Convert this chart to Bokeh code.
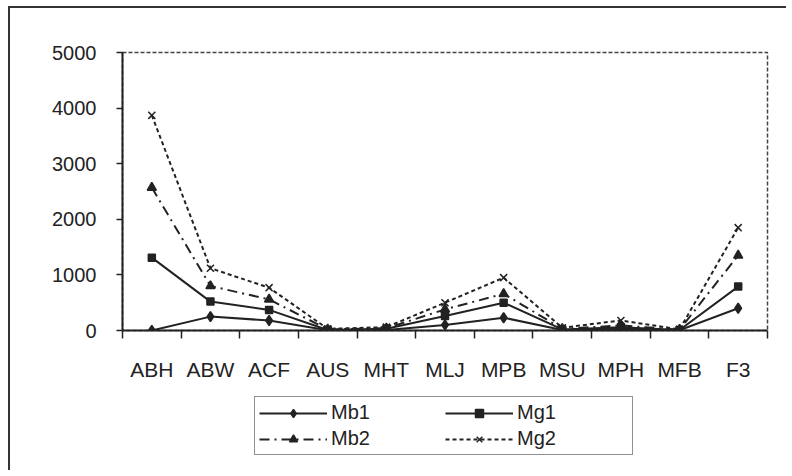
from bokeh.plotting import figure
from bokeh.models import Range1d, FixedTicker, Legend, LegendItem
from bokeh.layouts import column
from bokeh.embed import file_html
from bokeh.resources import INLINE

categories = ["ABH", "ABW", "ACF", "AUS", "MHT", "MLJ", "MPB", "MSU", "MPH", "MFB", "F3"]
Mb1 = [0, 250, 180, 5, 10, 100, 230, 10, 30, 5, 400]
Mg1 = [1310, 520, 370, 10, 30, 260, 500, 20, 60, 10, 790]
Mb2 = [2570, 800, 560, 20, 40, 380, 660, 30, 90, 15, 1350]
Mg2 = [3870, 1120, 770, 30, 60, 500, 950, 50, 180, 20, 1850]
y_ticks = [0, 1000, 2000, 3000, 4000, 5000]

xs = [i + 0.5 for i in range(len(categories))]
INK = "#222222"
FONT = "Liberation Sans"

p = figure(frame_width=645, frame_height=278, output_backend="svg", toolbar_location=None,
           x_range=Range1d(0, len(categories)), y_range=Range1d(0, 5000),
           min_border_left=112, min_border_top=44, min_border_right=17, min_border_bottom=60)

p.xgrid.visible = False
p.ygrid.visible = False
p.outline_line_color = "#444444"
p.outline_line_dash = "4 2"
p.outline_line_width = 1.5

# y axis
yax = p.yaxis[0]
yax.ticker = FixedTicker(ticks=y_ticks)
yax.axis_line_width = 2
yax.axis_line_color = INK
yax.major_tick_out = 6
yax.major_tick_in = 0
yax.major_tick_line_width = 1.5
yax.major_tick_line_color = INK
yax.minor_tick_line_color = None
yax.major_label_text_font = FONT
yax.major_label_text_font_size = "20px"
yax.major_label_text_color = INK
yax.major_label_standoff = 20

# x axis
xax = p.xaxis[0]
xax.ticker = FixedTicker(ticks=xs, minor_ticks=list(range(len(categories) + 1)))
xax.major_label_overrides = {x: c for x, c in zip(xs, categories)}
xax.axis_line_width = 2
xax.axis_line_color = INK
xax.major_tick_line_color = None
xax.major_tick_out = 0
xax.major_tick_in = 0
xax.minor_tick_line_color = INK
xax.minor_tick_line_width = 1.5
xax.minor_tick_out = 8
xax.minor_tick_in = 0
xax.major_label_text_font = FONT
xax.major_label_text_font_size = "21px"
xax.major_label_text_color = INK
xax.major_label_standoff = 19

series = [
    ("Mb1", Mb1, "solid", "diamond", 10),
    ("Mg1", Mg1, "solid", "square", 7),
    ("Mb2", Mb2, "10 5 2 5", "triangle", 9),
    ("Mg2", Mg2, "4 3", "x", 10),
]

# separate strip holding the legend below the chart (its ranges show no data)
leg = figure(width=776, height=80, output_backend="svg", toolbar_location=None,
             x_range=Range1d(-3, -2), y_range=Range1d(-3, -2),
             min_border_left=0, min_border_right=0, min_border_top=0, min_border_bottom=0)
leg.axis.visible = False
leg.grid.visible = False
leg.outline_line_color = None

items = []
for name, vals, dash, marker, size in series:
    p.line(xs, vals, line_color=INK, line_width=2, line_dash=dash)
    p.scatter(xs, vals, marker=marker, size=size, line_color=INK, fill_color=INK, line_width=1.5)
    ln = leg.line(xs, vals, line_color=INK, line_width=2, line_dash=dash)
    sc = leg.scatter(xs, vals, marker=marker, size=size - 2, line_color=INK, fill_color=INK, line_width=1.5)
    items.append(LegendItem(label=name, renderers=[ln, sc]))

legend = Legend(items=items, orientation="horizontal", nrows=2, location=(132, 15),
                label_text_font=FONT, label_text_font_size="20px", label_text_color=INK,
                glyph_width=68, glyph_height=20, label_standoff=4, label_width=111,
                spacing=3, padding=4, margin=0,
                border_line_color=INK, border_line_width=1.5, background_fill_alpha=0)
leg.add_layout(legend, "center")

layout = column(p, leg, spacing=0,
                styles={"margin-left": "8px", "margin-top": "6px",
                        "border-left": "2px solid #333", "border-top": "2px solid #333"})

open("out.html", "w").write(file_html(layout, INLINE))
